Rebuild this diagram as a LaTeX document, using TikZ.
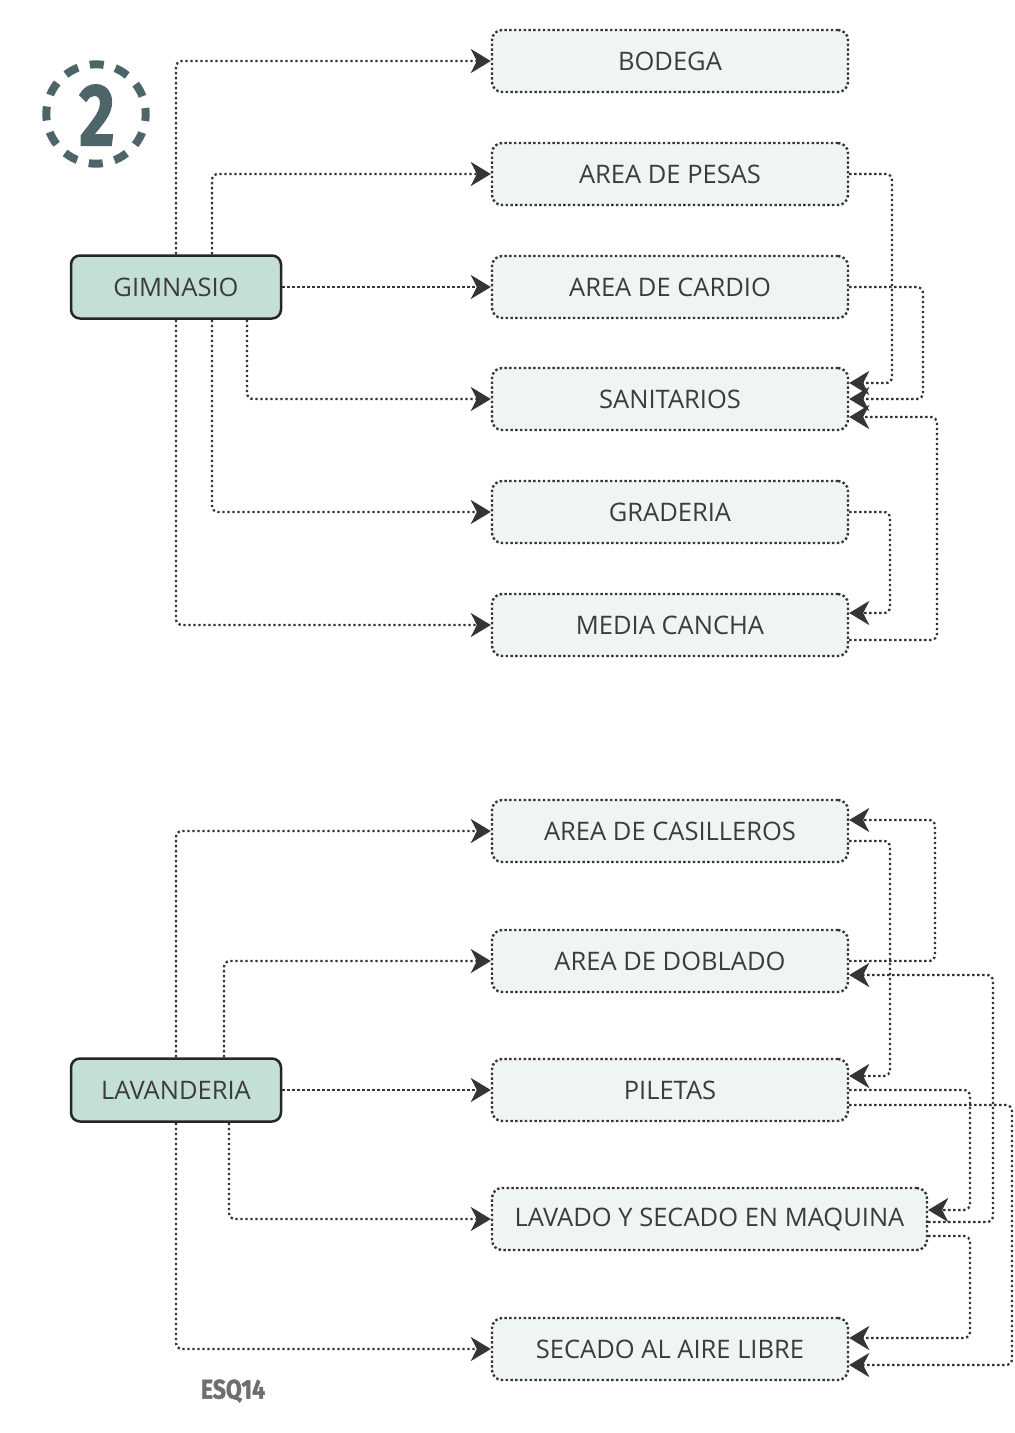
\documentclass[tikz,border=0pt]{standalone}
\usepackage{fontspec}
\setmainfont{Open Sans}
\newfontfamily\firafont[BoldFeatures={FakeBold=1.5}]{Fira Sans}
\usetikzlibrary{arrows.meta,calc}
\definecolor{txt}{HTML}{3C3C3C}
\definecolor{line}{HTML}{353535}
\definecolor{childfill}{HTML}{EEF5F3}
\definecolor{parentfill}{HTML}{C4DFD8}
\definecolor{badge}{HTML}{4D6469}
\definecolor{esq}{HTML}{6E6E6E}
\tikzset{
  child/.style={draw=line, line width=2.4pt, dash pattern=on 2.4pt off 2.4pt, fill=childfill,
    rounded corners=10pt, minimum width=356pt, minimum height=62pt, inner sep=0pt,
    font=\fontsize{25.5}{29}\selectfont, text=txt},
  parent/.style={draw=black!85, line width=2.5pt, fill=parentfill, rounded corners=9pt,
    minimum width=210pt, minimum height=63pt, inner sep=0pt,
    font=\fontsize{25.5}{29}\selectfont, text=txt},
  conn/.style={draw=line, line width=2.3pt, dash pattern=on 2.3pt off 2.7pt, rounded corners=6pt,
    -{Stealth[length=20pt,width=24pt,inset=6pt]}}
}
\begin{document}
\begin{tikzpicture}[x=1pt,y=-1pt]
\useasboundingbox (0,0) rectangle (1015,1433);
\fill[white] (0,0) rectangle (1015,1433);

% badge
\draw[badge, line width=8pt, dash pattern=on 14pt off 12.1pt, dash phase=7pt] (96,114) circle[radius=49.7];
\node[badge, font=\firafont\bfseries\fontsize{88}{90}\selectfont, xscale=0.78, inner sep=0pt] (two) at (97,115) {2};

% top group
\node[parent] (gim) at (176,287) {GIMNASIO};
\node[child] (bod) at (670,61) {BODEGA};
\node[child] (pes) at (670,174) {AREA DE PESAS};
\node[child] (car) at (670,287) {AREA DE CARDIO};
\node[child] (san) at (670,399) {SANITARIOS};
\node[child] (gra) at (670,512) {GRADERIA};
\node[child] (med) at (670,625) {MEDIA CANCHA};

\draw[conn] (gim.north) |- (bod.west);
\draw[conn] ([xshift=36pt]gim.north) |- (pes.west);
\draw[conn] (gim.east) -- (car.west);
\draw[conn] ([xshift=71pt]gim.south) |- (san.west);
\draw[conn] ([xshift=36pt]gim.south) |- (gra.west);
\draw[conn] (gim.south) |- (med.west);

\draw[conn] (pes.east) -- (892,174) -- (892,383) -- ([yshift=16pt]san.east);
\draw[conn] (car.east) -- (923,287) -- (923,399) -- (san.east);
\draw[conn] ([yshift=-15pt]med.east) -- (937,640) -- (937,417) -- ([yshift=-18pt]san.east);
\draw[conn] (gra.east) -- (890,512) -- (890,613) -- ([yshift=12pt]med.east);

% bottom group
\node[parent] (lav) at (176,1090) {LAVANDERIA};
\node[child] (cas) at (670,831) {AREA DE CASILLEROS};
\node[child] (dob) at (670,961) {AREA DE DOBLADO};
\node[child] (pil) at (670,1090) {PILETAS};
\node[child, minimum width=435pt] (lsm) at (709.5,1219) {LAVADO Y SECADO EN MAQUINA};
\node[child] (sec) at (670,1349) {SECADO AL AIRE LIBRE};

\draw[conn] (lav.north) |- (cas.west);
\draw[conn] ([xshift=48pt]lav.north) |- (dob.west);
\draw[conn] (lav.east) -- (pil.west);
\draw[conn] ([xshift=53pt]lav.south) |- (lsm.west);
\draw[conn] (lav.south) |- (sec.west);

\draw[conn] (dob.east) -- (935,961) -- (935,820) -- ([yshift=11pt]cas.east);
\draw[conn] ([yshift=-10pt]cas.east) -- (890,841) -- (890,1076) -- ([yshift=14pt]pil.east);
\draw[conn] ([yshift=-3pt]lsm.east) -- (993,1222) -- (993,975) -- ([yshift=-14pt]dob.east);
\draw[conn] (pil.east) -- (970,1090) -- (970,1210) -- ([yshift=9pt]lsm.east);
\draw[conn] ([yshift=-15pt]pil.east) -- (1012,1105) -- (1012,1365) -- ([yshift=-16pt]sec.east);
\draw[conn] ([yshift=-17pt]lsm.east) -- (970,1236) -- (970,1338) -- ([yshift=11pt]sec.east);

\node[esq, font=\firafont\bfseries\fontsize{27}{30}\selectfont, xscale=0.85, inner sep=0pt] (esqlabel) at (233,1391) {ESQ14};
\end{tikzpicture}
\end{document}
